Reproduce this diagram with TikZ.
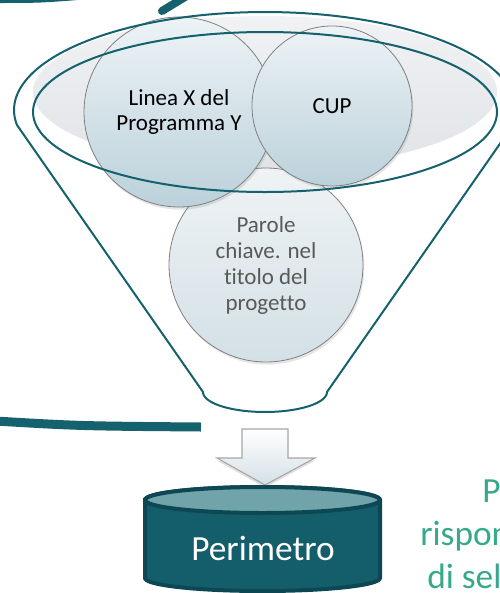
\documentclass[tikz,border=0pt]{standalone}
\usepackage{fontspec}
\setmainfont[Ligatures=NoCommon]{Carlito}
\usetikzlibrary{shadows}
\definecolor{funnelteal}{HTML}{15616D}
\definecolor{greytop}{HTML}{F0F2F4}
\definecolor{greybot}{HTML}{E1E4E7}
\definecolor{bubbletop}{HTML}{EDF3F6}
\definecolor{bubblebot}{HTML}{BBD1DA}
\definecolor{paroletop}{HTML}{EFF3F5}
\definecolor{parolebot}{HTML}{D3E0E6}
\definecolor{bubbleedge}{HTML}{808080}
\definecolor{parolegrey}{HTML}{595959}
\definecolor{cylbody}{HTML}{135E6A}
\definecolor{cyltop}{HTML}{70A3AA}
\definecolor{cyledge}{HTML}{0C4753}
\definecolor{notegreen}{HTML}{36A98A}
\definecolor{arrowbot}{HTML}{D3E0E6}
\newcommand{\bubblefont}{\fontsize{17.25}{18.75}\selectfont}
\newcommand{\parolefont}{\fontsize{17.25}{19.5}\selectfont}
\newcommand{\bigfont}{\fontsize{26.5}{32}\selectfont}
\tikzstyle{bubble} = [circle, inner sep=0pt, draw=bubbleedge, line width=0.6pt, top color=bubbletop, bottom color=bubblebot, drop shadow={shadow xshift=1pt, shadow yshift=-2pt, opacity=0.2}, align=center, font=\bubblefont, text=black]
\tikzstyle{funnel} = [draw=funnelteal, line width=1.5pt]
\tikzstyle{stub} = [draw=funnelteal, line width=6pt]
\tikzstyle{blockarrow} = [draw=gray!70, line width=0.8pt, top color=white, bottom color=arrowbot, drop shadow={shadow xshift=0pt, shadow yshift=-2pt, opacity=0.25}]
\tikzstyle{dbtext} = [inner sep=0pt, text=white, font=\bigfont]
\tikzstyle{note} = [inner sep=0pt, anchor=base west, text=notegreen, font=\bigfont]

\begin{document}
\begin{tikzpicture}[x=0.75pt, y=-0.75pt]
        \path[use as bounding box, clip] (0,0) rectangle (500,593);

        % grey disc behind the bubbles
        \shade[top color=greytop, bottom color=greybot] (265,92) ellipse [x radius=174pt, y radius=57pt];

        % bubbles
        \node (parole) [bubble, minimum size=145.5pt, top color=paroletop, bottom color=parolebot, text=parolegrey, font=\parolefont] at (266,265) {Parole\\chiave. nel\\titolo del\\progetto};
        \node (linea) [bubble, minimum size=142.5pt] at (179,112) {Linea X del\\Programma Y};
        \node (cup) [bubble, minimum size=120pt] at (332,106) {CUP};

        % funnel
        \draw[funnel] plot[domain=-8.8:188.8, samples=100] ({265+251*cos(\x)},{110-98*sin(\x)})
            -- (203,392) -- plot[domain=180:360, samples=40] ({265+62*cos(\x)},{392-20*sin(\x)}) -- cycle;
        \draw[funnel] (265,112) ellipse [x radius=174pt, y radius=60pt];

        % block arrow
        \draw[blockarrow] (242,429) -- (288,429) -- (288,458) -- (315,458) -- (265,485) -- (217,458) -- (242,458) -- cycle;

        % database
        \path[fill=cylbody, draw=cyledge, line width=3pt] (145,500) -- (145,578)
            -- plot[domain=180:360, samples=40] ({262.5+117.5*cos(\x)},{578-13*sin(\x)})
            -- (380,500) -- plot[domain=0:180, samples=40] ({262.5+117.5*cos(\x)},{500-13*sin(\x)}) -- cycle;
        \draw[fill=cyltop, draw=cyledge, line width=3pt] (262.5,500) ellipse [x radius=88.1pt, y radius=9.75pt];
        \node (perimetro) [dbtext, anchor=base] at (263,560) {Perimetro};

        % text cut by the right edge
        \node (noteA) [note] at (482,502) {P};
        \node (noteB) [note] at (420,545) {rispon};
        \node (noteC) [note] at (427,588) {di sel};

        % stubs of the curved arrows
        \coordinate (topA) at (-5,-1);
        \coordinate (topB) at (90,-5);
        \coordinate (slashA) at (162,11);
        \coordinate (slashB) at (190,-6);
        \coordinate (leftA) at (-5,421);
        \coordinate (leftB) at (201,427);
        \draw[stub] (topA) .. controls (40,-1) .. (topB);
        \draw[stub, line cap=round] (slashA) -- (slashB);
        \draw[stub, line width=6.75pt] (leftA) .. controls (80,426) .. (leftB);
    \end{tikzpicture}
\end{document}
